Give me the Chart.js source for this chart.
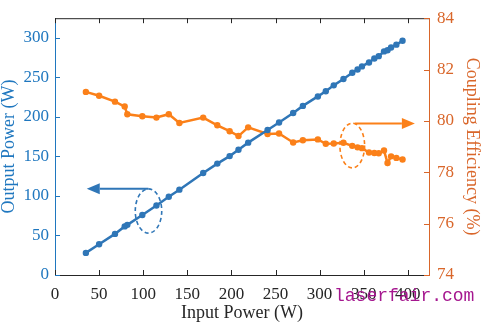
<!DOCTYPE html>
<html>
<head>
<meta charset="utf-8">
<script src="https://cdn.jsdelivr.net/npm/chart.js@4.4.1/dist/chart.umd.min.js"></script>
<style>
  html, body { margin: 0; padding: 0; background: #fff; overflow: hidden; }
  canvas { display: block; }
</style>
</head>
<body>
<canvas id="chart" width="482" height="326"></canvas>
<script>
// measured points: input power (W), output power (W), coupling efficiency (%)
const inputPower = [35, 50, 68, 79, 82, 99, 115, 129, 141, 168, 184, 198, 208, 219, 241, 254,
  270, 281, 298, 307, 316, 327, 337, 343, 348, 356, 362, 367, 373, 377, 381, 387, 394];
const outputPower = [28, 39, 52, 61.5, 63.5, 76, 88, 99, 108, 129, 141, 150.5, 158.5, 167.5, 183.5, 193,
  205, 214, 226, 232.5, 240, 248, 256, 260, 264, 269, 274, 277, 283, 284.5, 288, 291.5, 296.5];
const efficiency = [81.13, 80.98, 80.75, 80.56, 80.26, 80.18, 80.13, 80.26, 79.92, 80.13, 79.83, 79.6,
  79.41, 79.75, 79.49, 79.51, 79.16, 79.25, 79.28, 79.11, 79.12, 79.15, 79.03, 78.97, 78.94, 78.77,
  78.75, 78.74, 78.85, 78.36, 78.62, 78.56, 78.5];

const xTicks = [0, 50, 100, 150, 200, 250, 300, 350, 400];
const leftTicks = [0, 50, 100, 150, 200, 250, 300];
const rightTicks = [74, 76, 78, 80, 82, 84];

const BLUE = "#2f76b7";
const ORANGE = "#fb8019";
const LEFT_TXT = "#1f77bf";
const RIGHT_TXT = "#d9662a";
const SERIF = "'Liberation Serif', 'Times New Roman', serif";

// dashed ellipse + arrow pointing at the axis each curve belongs to
const callouts = [
  { axis: "y", color: BLUE, cx: 106, cy: 81, rx: 15, ry: 28, from: [106, 109], to: [36, 109] },
  { axis: "y1", color: ORANGE, cx: 337, cy: 79.04, rx: 14, ry: 0.87, from: [340, 79.9], to: [408, 79.9] },
];

const keepTicks = (list) => (scale) => {
  scale.ticks = list.map((v) => ({ value: v }));
};

const framePlugin = {
  id: "frame",
  afterDraw(chart) {
    const { ctx, chartArea: a, scales } = chart;
    const x = scales.x, y = scales.y, y1 = scales.y1;
    const len = 5;
    ctx.save();
    ctx.lineWidth = 1;

    // top border
    ctx.strokeStyle = "#262626";
    ctx.beginPath();
    ctx.moveTo(a.left, a.top + 0.5);
    ctx.lineTo(a.right, a.top + 0.5);
    ctx.stroke();

    // inward tick marks
    ctx.beginPath();
    xTicks.forEach((v) => {
      const px = Math.round(x.getPixelForValue(v)) + 0.5;
      ctx.moveTo(px, a.bottom); ctx.lineTo(px, a.bottom - len);
      ctx.moveTo(px, a.top); ctx.lineTo(px, a.top + len);
    });
    ctx.stroke();

    ctx.strokeStyle = LEFT_TXT;
    ctx.beginPath();
    leftTicks.forEach((v) => {
      const py = Math.round(y.getPixelForValue(v)) + 0.5;
      ctx.moveTo(a.left, py); ctx.lineTo(a.left + len, py);
    });
    ctx.stroke();

    ctx.strokeStyle = RIGHT_TXT;
    ctx.beginPath();
    rightTicks.forEach((v) => {
      const py = Math.round(y1.getPixelForValue(v)) + 0.5;
      ctx.moveTo(a.right, py); ctx.lineTo(a.right - len, py);
    });
    ctx.stroke();

    // callouts
    callouts.forEach((c) => {
      const ys = scales[c.axis];
      const cx = x.getPixelForValue(c.cx), cy = ys.getPixelForValue(c.cy);
      const rx = Math.abs(x.getPixelForValue(c.cx + c.rx) - cx);
      const ry = Math.abs(ys.getPixelForValue(c.cy + c.ry) - cy);
      ctx.strokeStyle = c.color;
      ctx.fillStyle = c.color;
      ctx.lineWidth = 1.6;
      ctx.setLineDash([4, 3]);
      ctx.beginPath();
      ctx.ellipse(cx, cy, rx, ry, 0, 0, Math.PI * 2);
      ctx.stroke();
      ctx.setLineDash([]);

      const x0 = x.getPixelForValue(c.from[0]), y0 = ys.getPixelForValue(c.from[1]);
      const x1 = x.getPixelForValue(c.to[0]), y1p = ys.getPixelForValue(c.to[1]);
      const dir = Math.sign(x1 - x0);
      const head = 13;
      ctx.lineWidth = 2;
      ctx.beginPath();
      ctx.moveTo(x0, y0);
      ctx.lineTo(x1 - dir * head, y1p);
      ctx.stroke();
      ctx.beginPath();
      ctx.moveTo(x1, y1p);
      ctx.lineTo(x1 - dir * head, y1p - 5.5);
      ctx.lineTo(x1 - dir * head, y1p + 5.5);
      ctx.closePath();
      ctx.fill();
    });

    // site mark
    ctx.fillStyle = "#a5178f";
    ctx.font = "18px 'Liberation Mono', 'DejaVu Sans Mono', monospace";
    ctx.textBaseline = "middle";
    ctx.textAlign = "left";
    ctx.fillText("laserfair.com", 334, 296);
    ctx.restore();
  },
};

new Chart(document.getElementById("chart"), {
  type: "line",
  data: {
    datasets: [
      {
        label: "Output Power",
        data: inputPower.map((v, i) => ({ x: v, y: outputPower[i] })),
        yAxisID: "y",
        borderColor: BLUE,
        backgroundColor: BLUE,
        borderWidth: 2.5,
        pointRadius: 3.2,
        pointBorderWidth: 0,
        tension: 0,
      },
      {
        label: "Coupling Efficiency",
        data: inputPower.map((v, i) => ({ x: v, y: efficiency[i] })),
        yAxisID: "y1",
        borderColor: ORANGE,
        backgroundColor: ORANGE,
        borderWidth: 2.5,
        pointRadius: 3.2,
        pointBorderWidth: 0,
        tension: 0,
      },
    ],
  },
  options: {
    responsive: false,
    animation: false,
    devicePixelRatio: 1,
    layout: { padding: { top: 7, left: 0, right: 0, bottom: 0 } },
    plugins: { legend: { display: false }, tooltip: { enabled: false } },
    scales: {
      x: {
        type: "linear",
        min: 0,
        max: 424,
        afterBuildTicks: keepTicks(xTicks),
        afterFit: (s) => { s.height = 51; },
        grid: { display: false, drawTicks: false },
        border: { display: true, color: "#262626", width: 1 },
        ticks: { color: "#262626", padding: 9, maxRotation: 0, font: { family: SERIF, size: 17 } },
        title: {
          display: true,
          text: "Input Power (W)",
          color: "#262626",
          font: { family: SERIF, size: 18, lineHeight: 1 },
          padding: { top: 0, bottom: 4 },
        },
      },
      y: {
        type: "linear",
        position: "left",
        min: 0,
        max: 325,
        afterBuildTicks: keepTicks(leftTicks),
        afterFit: (s) => { s.width = 55; },
        grid: { display: false, drawTicks: false },
        border: { display: true, color: LEFT_TXT, width: 1 },
        ticks: { color: LEFT_TXT, padding: 6, font: { family: SERIF, size: 17 } },
        title: {
          display: true,
          text: "Output Power (W)",
          color: LEFT_TXT,
          font: { family: SERIF, size: 18, lineHeight: 1 },
          padding: { top: 0, bottom: 0 },
        },
      },
      y1: {
        type: "linear",
        position: "right",
        min: 74,
        max: 84,
        afterBuildTicks: keepTicks(rightTicks),
        afterFit: (s) => { s.width = 53; },
        grid: { display: false, drawTicks: false },
        border: { display: true, color: RIGHT_TXT, width: 1 },
        ticks: { color: RIGHT_TXT, padding: 8, font: { family: SERIF, size: 17 } },
        title: {
          display: true,
          text: "Coupling Efficiency (%)",
          color: RIGHT_TXT,
          font: { family: SERIF, size: 18, lineHeight: 1 },
          padding: { top: 1.5, bottom: 0 },
        },
      },
    },
  },
  plugins: [framePlugin],
});
</script>
</body>
</html>
